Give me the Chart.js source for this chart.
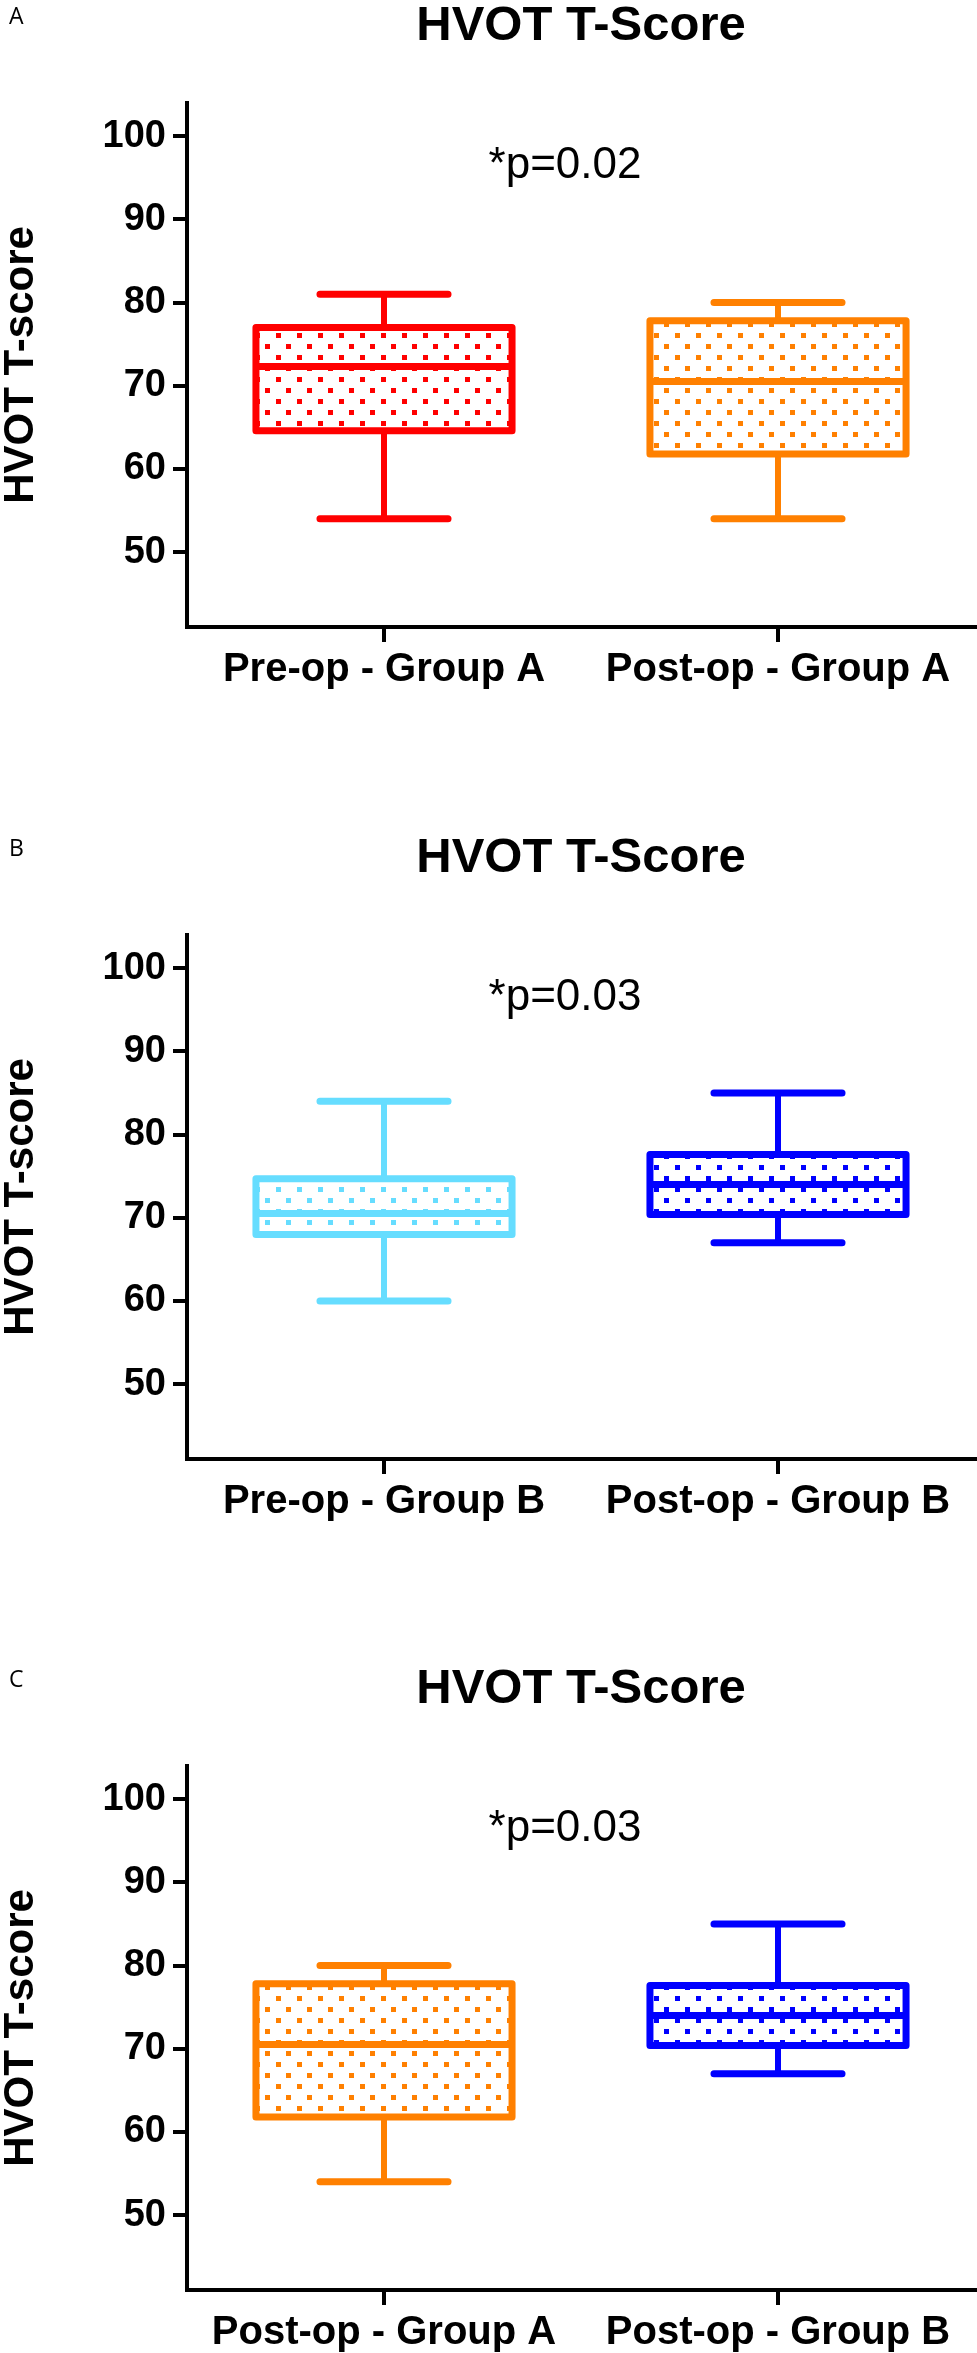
<!DOCTYPE html>
<html>
<head>
<meta charset="utf-8">
<script src="https://cdn.jsdelivr.net/npm/chart.js@4.4.1/dist/chart.umd.min.js"></script>
<style>
    html, body { margin: 0; padding: 0; background: #fff; overflow: hidden; }
    .panel { position: relative; width: 977px; }
</style>
</head>
<body>
<div class="panel" style="height:832px"><canvas id="chartA"></canvas></div>
<div class="panel" style="height:831px"><canvas id="chartB"></canvas></div>
<div class="panel" style="height:690px"><canvas id="chartC"></canvas></div>
<script>
// five-number summaries: [min, q1, median, q3, max]
const preOpA = [54, 64.6, 72.3, 77, 81]
const postOpA = [54, 61.8, 70.5, 77.8, 80]
const preOpB = [60, 68, 70.5, 74.7, 84]
const postOpB = [67, 70.4, 74, 77.6, 85]

const labelsA = ['Pre-op - Group A', 'Post-op - Group A']
const labelsB = ['Pre-op - Group B', 'Post-op - Group B']
const labelsC = ['Post-op - Group A', 'Post-op - Group B']

const pValues = ['*p=0.02', '*p=0.03', '*p=0.03']
const yTicks = [50, 60, 70, 80, 90, 100]
const yMin = 41
const yMax = 104

const RED = '#FF0000'
const ORANGE = '#FF8000'
const CYAN = '#66DDFF'
const BLUE = '#0000FF'

const PLOT_LEFT = 187
const PLOT_BOTTOM = 627

Chart.defaults.font.family = '"Liberation Sans", Arial, sans-serif'
Chart.defaults.color = '#000'

function dotPattern(color) {
    const c = document.createElement('canvas')
    c.width = 21
    c.height = 22
    const g = c.getContext('2d')
    g.fillStyle = '#fff'
    g.fillRect(0, 0, 21, 22)
    g.fillStyle = color
    g.fillRect(3, 3, 5, 5)
    g.fillRect(13, 14, 5, 5)
    return g.createPattern(c, 'repeat')
}

// whiskers, caps, box outline and median drawn on top of the floating bars
const boxPlot = {
    id: 'boxPlot',
    afterDatasetsDraw(chart) {
        const ctx = chart.ctx
        const yScale = chart.scales.y
        const ds = chart.data.datasets[0]
        chart.getDatasetMeta(0).data.forEach((bar, i) => {
            const {x, y, base, width} = bar.getProps(['x', 'y', 'base', 'width'])
            const [min, q1, median, q3, max] = ds.stats[i]
            const pMin = yScale.getPixelForValue(min)
            const pMax = yScale.getPixelForValue(max)
            const pMed = yScale.getPixelForValue(median)
            const capHalf = width / 4

            ctx.save()
            ctx.strokeStyle = ds.strokeColors[i]

            ctx.lineWidth = 6
            ctx.lineCap = 'butt'
            ctx.beginPath()
            ctx.moveTo(x, y)
            ctx.lineTo(x, pMax)
            ctx.moveTo(x, base)
            ctx.lineTo(x, pMin)
            ctx.stroke()

            ctx.lineWidth = 7
            ctx.lineCap = 'round'
            ctx.beginPath()
            ctx.moveTo(x - capHalf, pMax)
            ctx.lineTo(x + capHalf, pMax)
            ctx.moveTo(x - capHalf, pMin)
            ctx.lineTo(x + capHalf, pMin)
            ctx.stroke()

            ctx.lineJoin = 'round'
            ctx.strokeRect(x - width / 2, y, width, base - y)

            ctx.lineCap = 'butt'
            ctx.beginPath()
            ctx.moveTo(x - width / 2, pMed)
            ctx.lineTo(x + width / 2, pMed)
            ctx.stroke()
            ctx.restore()
        })
    }
}

const panelText = {
    id: 'panelText',
    afterDraw(chart, args, opts) {
        const ctx = chart.ctx
        ctx.save()
        ctx.fillStyle = '#000'
        ctx.textBaseline = 'alphabetic'
        ctx.textAlign = 'left'
        ctx.font = '23px "Open Sans"'
        ctx.fillText(opts.letter, 9, 24)
        ctx.font = '44px "Liberation Sans"'
        ctx.textAlign = 'center'
        ctx.fillText(opts.pText, 565, 178)
        ctx.restore()
    }
}

function makePanel(id, labels, stats, colors, letter, pText) {
    return new Chart(document.getElementById(id), {
        type: 'bar',
        data: {
            labels: labels,
            datasets: [{
                data: stats.map(s => [s[1], s[3]]),
                stats: stats,
                strokeColors: colors,
                backgroundColor: colors.map(dotPattern),
                borderWidth: 0,
                barPercentage: 0.65,
                categoryPercentage: 1
            }]
        },
        options: {
            responsive: true,
            maintainAspectRatio: false,
            animation: false,
            events: [],
            layout: {padding: {left: 0, right: 2, top: 0, bottom: 0}},
            plugins: {
                legend: {display: false},
                tooltip: {enabled: false},
                title: {
                    display: true,
                    text: 'HVOT T-Score',
                    fullSize: false,
                    color: '#000',
                    font: {size: 49, weight: 'bold', lineHeight: 1.1},
                    padding: {top: 0, bottom: 49}
                },
                panelText: {letter: letter, pText: pText}
            },
            scales: {
                x: {
                    offset: true,
                    grid: {offset: false, drawOnChartArea: false, tickLength: 15, lineWidth: 4, color: '#000'},
                    border: {display: true, width: 4, color: '#000'},
                    ticks: {font: {size: 40, weight: 'bold'}, padding: 4, maxRotation: 0, autoSkip: false},
                    afterFit: scale => { scale.height = scale.chart.height - PLOT_BOTTOM }
                },
                y: {
                    min: yMin,
                    max: yMax,
                    afterBuildTicks: scale => { scale.ticks = yTicks.map(v => ({value: v})) },
                    grid: {drawOnChartArea: false, tickLength: 14, lineWidth: 4, color: '#000'},
                    border: {display: true, width: 4, color: '#000'},
                    ticks: {font: {size: 38, weight: 'bold'}, padding: 7},
                    title: {
                        display: true,
                        text: 'HVOT T-score',
                        font: {size: 42, weight: 'bold', lineHeight: 1},
                        padding: 0
                    },
                    afterFit: scale => { scale.width = PLOT_LEFT }
                }
            }
        },
        plugins: [boxPlot, panelText]
    })
}

makePanel('chartA', labelsA, [preOpA, postOpA], [RED, ORANGE], 'A', pValues[0])
makePanel('chartB', labelsB, [preOpB, postOpB], [CYAN, BLUE], 'B', pValues[1])
makePanel('chartC', labelsC, [postOpA, postOpB], [ORANGE, BLUE], 'C', pValues[2])
</script>
</body>
</html>
